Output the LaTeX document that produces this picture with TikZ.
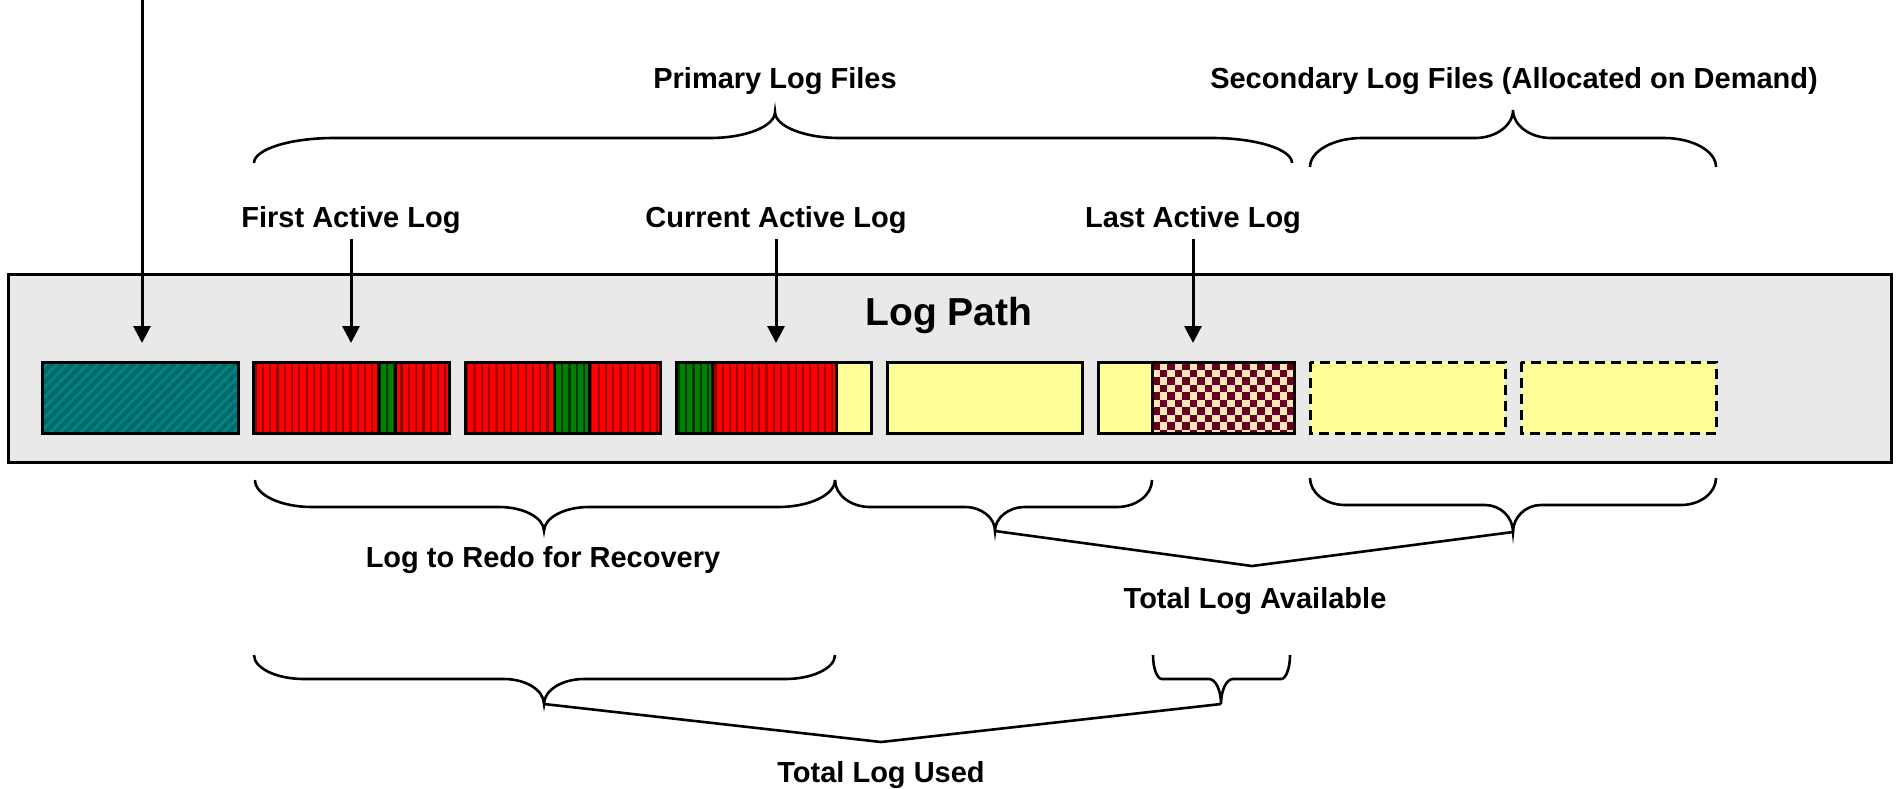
\documentclass[tikz,border=0pt]{standalone}
\usepackage{fontspec}
\setmainfont{Liberation Sans}
\usetikzlibrary{arrows.meta, patterns.meta, positioning}

\definecolor{pathgray}{HTML}{E9E9E9}
\definecolor{logteal}{HTML}{006868}
\definecolor{logteallight}{HTML}{008484}
\definecolor{logred}{HTML}{FF0000}
\definecolor{logdarkred}{HTML}{9A0000}
\definecolor{loggreen}{HTML}{008000}
\definecolor{logdarkgreen}{HTML}{003A00}
\definecolor{logyellow}{HTML}{FFFF99}
\definecolor{checkdark}{HTML}{660022}
\definecolor{checklight}{HTML}{FFE4B5}

\tikzset{
  lbl/.style={font=\fontsize{14.5}{17}\selectfont\bfseries, inner sep=0pt, anchor=base},
  pathtitle/.style={font=\fontsize{19.5}{23}\selectfont\bfseries, inner sep=0pt, anchor=base},
  pathbox/.style={draw=black, fill=pathgray, line width=1.5pt},
  logborder/.style={draw=black, line width=1.5pt},
  tealseg/.style={logborder, preaction={fill=logteal}, pattern={Lines[angle=45,distance=3.6pt,line width=1.4pt]}, pattern color=logteallight},
  redseg/.style={logborder, preaction={fill=logred}, pattern={Lines[angle=90,distance=3.65pt,line width=1.1pt]}, pattern color=logdarkred},
  greenseg/.style={logborder, preaction={fill=loggreen}, pattern={Lines[angle=90,distance=3.65pt,line width=1.1pt]}, pattern color=logdarkgreen},
  freeseg/.style={logborder, fill=logyellow},
  spareseg/.style={logborder, fill=logyellow, dash pattern=on 5pt off 3pt},
  bracestyle/.style={draw=black, line width=1.3pt},
  ptr/.style={draw=black, line width=1.5pt, -{Triangle[length=8.5pt,width=8.5pt]}}
}

% brace: {left}{right}{tip x}{end y}{flat y}{tip y}{end radius}{tip radius}{tip name}
\newcommand{\logbrace}[9]{%
  \draw[bracestyle] (#1,#4) .. controls (#1,{#4+0.55*(#5-#4)}) and ({#1+0.45*#7},#5) .. ({#1+#7},#5)
    -- ({#3-#8},#5) .. controls ({#3-0.45*#8},#5) and (#3,{#6+0.55*(#5-#6)}) .. (#3,#6) coordinate (#9)
    .. controls (#3,{#6+0.55*(#5-#6)}) and ({#3+0.45*#8},#5) .. ({#3+#8},#5)
    -- ({#2-#7},#5) .. controls ({#2-0.45*#7},#5) and (#2,{#4+0.55*(#5-#4)}) .. (#2,#4);
}

\begin{document}
\begin{tikzpicture}[x=0.5pt, y=-0.5pt]
  \useasboundingbox (0,0) rectangle (1898,788);

  % the log path with its files
  \draw[pathbox] (8,274) rectangle (1891,462);
  \node[pathtitle] (logpath) at (949,325) {Log Path};

  \draw[tealseg] (42,362) rectangle (238,433);

  \draw[redseg] (253,362) rectangle (378,433);
  \draw[greenseg] (378,362) rectangle (395,433);
  \draw[redseg] (395,362) rectangle (449,433);

  \draw[redseg] (465,362) rectangle (554,433);
  \draw[greenseg] (554,362) rectangle (589,433);
  \draw[redseg] (589,362) rectangle (660,433);

  \draw[greenseg] (676,362) rectangle (712,433);
  \draw[redseg] (712,362) rectangle (836,433);
  \draw[freeseg] (836,362) rectangle (871,433);

  \draw[freeseg] (887,362) rectangle (1082,433);

  \draw[freeseg] (1098,362) rectangle (1152,433);
  \begin{scope}
    \clip (1152,362) rectangle (1294,433);
    \fill[checklight] (1152,362) rectangle (1294,433);
    \foreach \i in {0,...,18}
      \foreach \j in {0,...,9} {
        \pgfmathtruncatemacro\odd{mod(\i+\j,2)}
        \ifnum\odd=0
          \fill[checkdark] ({1152+7.5*\i},{362+7.5*\j}) rectangle ++(7.5,7.5);
        \fi
      }
  \end{scope}
  \draw[logborder] (1152,362) rectangle (1294,433);

  \draw[spareseg] (1310,362) rectangle (1505,433);
  \draw[spareseg] (1521,362) rectangle (1716,433);

  % pointers
  \coordinate (tips) at (0,343);
  \coordinate (feed) at (142,0);
  \draw[ptr] (feed) -- (feed |- tips);

  \node[lbl] (firstlog) at (351,227) {First Active Log};
  \node[lbl] (currentlog) at (776,227) {Current Active Log};
  \node[lbl] (lastlog) at (1193,227) {Last Active Log};
  \draw[ptr] ([yshift=-2.5pt]firstlog.south) -- (firstlog.south |- tips);
  \draw[ptr] ([yshift=-2.5pt]currentlog.south) -- (currentlog.south |- tips);
  \draw[ptr] ([yshift=-2.5pt]lastlog.south) -- (lastlog.south |- tips);

  % braces above
  \node[lbl] (primary) at (775,88) {Primary Log Files};
  \node[lbl] (secondary) at (1514,88) {Secondary Log Files (Allocated on Demand)};
  \logbrace{254}{1292}{775}{163}{138}{112}{80}{65}{primtip}
  \logbrace{1310}{1716}{1513}{167}{138}{110}{52}{38}{sectip}

  % braces below
  \logbrace{255}{835}{544}{480}{507}{531}{57}{45}{redotip}
  \logbrace{835}{1152}{995}{480}{507}{531}{35}{30}{availA}
  \logbrace{1310}{1716}{1513}{478}{505}{532}{35}{28}{availB}
  \node[lbl] (redo) at (543,567) {Log to Redo for Recovery};

  \coordinate (availjoin) at (1252,566);
  \draw[bracestyle] (availA) -- (availjoin) -- (availB);
  \node[lbl] (avail) at (1255,608) {Total Log Available};

  \logbrace{254}{835}{544}{655}{679}{704}{50}{40}{usedA}
  \logbrace{1153}{1290}{1221}{655}{679}{704}{9}{12}{usedB}
  \coordinate (usedjoin) at (881,742);
  \draw[bracestyle] (usedA) -- (usedjoin) -- (usedB);
  \node[lbl] (used) at (881,782) {Total Log Used};
\end{tikzpicture}
\end{document}
